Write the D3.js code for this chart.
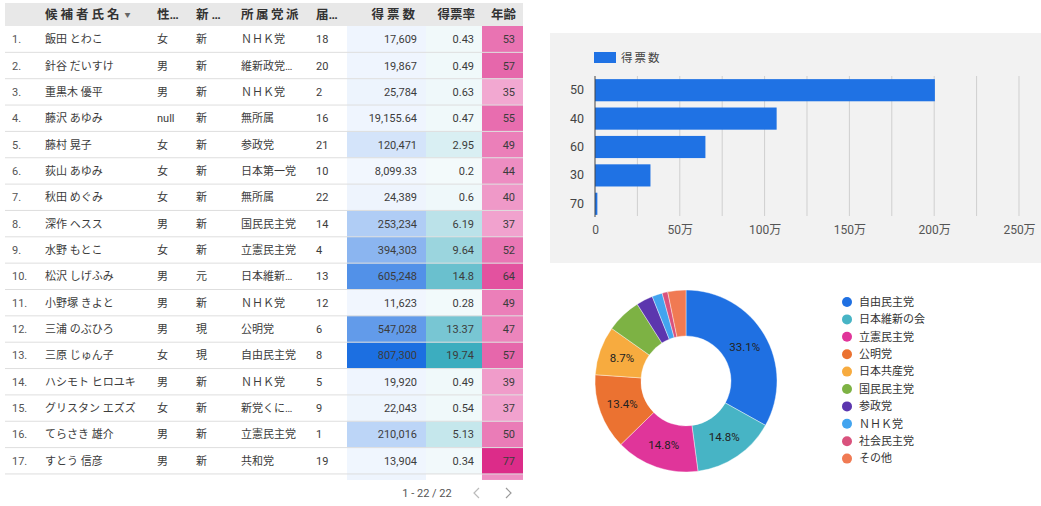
<!DOCTYPE html>
<html>
<head>
<meta charset="utf-8">
<script src="https://cdn.jsdelivr.net/npm/d3@7"></script>
<style>
  body { margin: 0; background: #fff; }
  svg { display: block; font-family: Roboto, "Noto Sans CJK JP", sans-serif; }
</style>
</head>
<body>
<div class="container"></div>
<script>
// table data
var names = ['飯田 とわこ','針谷 だいすけ','重黒木 優平','藤沢 あゆみ','藤村 晃子','荻山 あゆみ','秋田 めぐみ','深作 ヘスス','水野 もとこ','松沢 しげふみ','小野塚 きよと','三浦 のぶひろ','三原 じゅん子','ハシモト ヒロユキ','グリスタン エズズ','てらさき 雄介','すとう 信彦'];
var genders = ['女','男','男','null','女','女','女','男','女','男','男','男','女','男','女','男','男'];
var statuses = ['新','新','新','新','新','新','新','新','新','元','新','現','現','新','新','新','新'];
var parties = ['ＮＨＫ党','維新政党…','ＮＨＫ党','無所属','参政党','日本第一党','無所属','国民民主党','立憲民主党','日本維新…','ＮＨＫ党','公明党','自由民主党','ＮＨＫ党','新党くに…','立憲民主党','共和党'];
var ballots = [18,20,2,16,21,10,22,14,4,13,12,6,8,5,9,1,19];
var votes = [17609,19867,25784,19155.64,120471,8099.33,24389,253234,394303,605248,11623,547028,807300,19920,22043,210016,13904];
var rates = [0.43,0.49,0.63,0.47,2.95,0.2,0.6,6.19,9.64,14.8,0.28,13.37,19.74,0.49,0.54,5.13,0.34];
var ages = [53,57,35,55,49,44,40,37,52,64,49,47,57,39,37,50,77];
var headers = ['候補者氏名','性…','新 …','所属党派','届…','得票数','得票率','年齢'];

// bar chart data (age group -> votes)
var ageGroups = ['50','40','60','30','70'];
var groupVotes = [2004000, 1071000, 651000, 327000, 13904];
var barTicks = [0, 500000, 1000000, 1500000, 2000000, 2500000];

// donut data (party share %)
var partyNames = ['自由民主党','日本維新の会','立憲民主党','公明党','日本共産党','国民民主党','参政党','ＮＨＫ党','社会民主党','その他'];
var partyShares = [33.1, 14.8, 14.8, 13.4, 8.7, 6.2, 2.95, 1.83, 1.0, 3.22];
var partyColors = ['#1f70e2','#47b4c5','#e0359a','#eb7231','#f7ab3f','#7db244','#5c36ae','#42a4ef','#d9527d','#f07a53'];

var W = 1041, H = 506;
var svg = d3.select('.container').append('svg')
  .attr('width', W).attr('height', H);

// ---------- table ----------
var top0 = 26, rowH = 26.35;
var tbl = svg.append('g');

tbl.append('rect').attr('x', 5).attr('y', 3).attr('width', 518).attr('height', 23).attr('fill', '#e8e8e8');

var blueScale = d3.scaleLinear().domain([d3.min(votes), d3.max(votes)]).range(['#f2f7fe', '#1c6fe1']);
var tealScale = d3.scaleLinear().domain([d3.min(rates), d3.max(rates)]).range(['#f3fafb', '#3cadbf']);
var pinkScale = d3.scaleLinear().domain([d3.min(ages), d3.max(ages)]).range(['#f2a8d1', '#dc2c89']);

var colX = {num: 12, name: 45, gender: 157, status: 196, party: 241, ballot: 316};
var cells = [
  {x: 347, w: 79, right: 417, vals: votes, scale: blueScale, fmt: d3.format(',')},
  {x: 426, w: 56, right: 474, vals: rates, scale: tealScale, fmt: String},
  {x: 482, w: 41, right: 515, vals: ages, scale: pinkScale, fmt: String}
];

// header labels
var hy = 19;
var hdr = tbl.append('g').attr('font-size', 12.5).attr('font-weight', 'bold').attr('fill', '#333');
var nameHead = hdr.append('text').attr('x', colX.name).attr('y', hy).attr('letter-spacing', 3).text(headers[0]);
nameHead.append('tspan').attr('font-size', 6).attr('fill', '#666').attr('dx', 2).attr('dy', -2).attr('letter-spacing', 0).text('▼');
hdr.append('text').attr('x', colX.gender).attr('y', hy).text(headers[1]);
hdr.append('text').attr('x', colX.status).attr('y', hy).text(headers[2]);
hdr.append('text').attr('x', colX.party).attr('y', hy).attr('letter-spacing', 2.5).text(headers[3]);
hdr.append('text').attr('x', colX.ballot).attr('y', hy).text(headers[4]);
hdr.append('text').attr('x', 418).attr('y', hy).attr('text-anchor', 'end').attr('letter-spacing', 3).text(headers[5]);
hdr.append('text').attr('x', 475).attr('y', hy).attr('text-anchor', 'end').text(headers[6]);
hdr.append('text').attr('x', 516).attr('y', hy).attr('text-anchor', 'end').text(headers[7]);

// colored cells
cells.forEach(function(c) {
  tbl.selectAll(null).data(c.vals).enter().append('rect')
    .attr('x', c.x).attr('width', c.w)
    .attr('y', function(d, i) { return top0 + i * rowH; })
    .attr('height', rowH)
    .attr('fill', function(d) { return c.scale(d); });
});
// partial next row peeking under the last one
tbl.append('rect').attr('x', 347).attr('y', top0 + 17 * rowH).attr('width', 79).attr('height', 6).attr('fill', '#eef4fd');
tbl.append('rect').attr('x', 482).attr('y', top0 + 17 * rowH).attr('width', 41).attr('height', 6).attr('fill', '#ee8fc3');

// row separators
tbl.selectAll('line.sep').data(d3.range(17)).enter().append('line')
  .attr('x1', 5).attr('x2', 523)
  .attr('y1', function(d) { return top0 + (d + 1) * rowH; })
  .attr('y2', function(d) { return top0 + (d + 1) * rowH; })
  .attr('stroke', '#dedede').attr('stroke-width', 1);

var rows = tbl.selectAll('g.row').data(names).enter().append('g')
  .attr('transform', function(d, i) { return 'translate(0,' + (top0 + i * rowH + rowH / 2 + 4) + ')'; })
  .attr('font-size', 11).attr('fill', '#3c3c3c');

rows.append('text').attr('x', colX.num).attr('fill', '#555').text(function(d, i) { return (i + 1) + '.'; });
rows.append('text').attr('x', colX.name).text(function(d) { return d; });
rows.append('text').attr('x', colX.gender).text(function(d, i) { return genders[i]; });
rows.append('text').attr('x', colX.status).text(function(d, i) { return statuses[i]; });
rows.append('text').attr('x', colX.party).text(function(d, i) { return parties[i]; });
rows.append('text').attr('x', colX.ballot).text(function(d, i) { return ballots[i]; });
cells.forEach(function(c) {
  rows.append('text').attr('x', c.right).attr('text-anchor', 'end')
    .text(function(d, i) { return c.fmt(c.vals[i]); });
});

// pagination
var pg = svg.append('g').attr('font-size', 11).attr('fill', '#555');
pg.append('text').attr('x', 427).attr('y', 497).attr('text-anchor', 'middle').text('1 - 22 / 22');
pg.append('path').attr('d', 'M479,488 L474,493 L479,498').attr('fill', 'none').attr('stroke', '#bbb').attr('stroke-width', 1.2);
pg.append('path').attr('d', 'M506,488 L511,493 L506,498').attr('fill', 'none').attr('stroke', '#999').attr('stroke-width', 1.2);

// ---------- bar chart ----------
svg.append('rect').attr('x', 550).attr('y', 33).attr('width', 491).attr('height', 230).attr('fill', '#f2f2f2');

var barX = d3.scaleLinear().domain([0, 2500000]).range([595, 1019]);
var barY = d3.scaleBand().domain(ageGroups).range([76, 218]).paddingInner(0.22).paddingOuter(0.11);

var bar = svg.append('g');
bar.selectAll('line.grid').data(d3.range(0, 2500001, 250000).slice(1)).enter().append('line')
  .attr('x1', function(d) { return barX(d); }).attr('x2', function(d) { return barX(d); })
  .attr('y1', 76).attr('y2', 216).attr('stroke', '#cfcfcf');

bar.selectAll('rect.bar').data(groupVotes).enter().append('rect')
  .attr('x', barX(0))
  .attr('y', function(d, i) { return barY(ageGroups[i]); })
  .attr('width', function(d) { return barX(d) - barX(0); })
  .attr('height', barY.bandwidth())
  .attr('fill', '#1f72e4');

bar.append('line').attr('x1', barX(0)).attr('x2', barX(0)).attr('y1', 76).attr('y2', 217).attr('stroke', '#444');

var xAxis = d3.axisBottom(barX).tickValues(barTicks).tickSize(0)
  .tickFormat(function(d) { return d === 0 ? '0' : (d / 10000) + '万'; });
bar.append('g').attr('transform', 'translate(0,222)').call(xAxis)
  .call(function(g) { g.select('.domain').remove(); })
  .selectAll('text').attr('font-size', 12).attr('fill', '#555').attr('font-family', 'Roboto, "Noto Sans CJK JP", sans-serif');

var yAxis = d3.axisLeft(barY).tickSize(0).tickPadding(0);
bar.append('g').attr('transform', 'translate(584,0)').call(yAxis)
  .call(function(g) { g.select('.domain').remove(); })
  .selectAll('text').attr('font-size', 12.5).attr('fill', '#444').attr('font-family', 'Roboto, sans-serif');

bar.append('rect').attr('x', 594).attr('y', 52).attr('width', 22).attr('height', 11).attr('fill', '#1f72e4');
bar.append('text').attr('x', 621).attr('y', 62).attr('font-size', 11.5).attr('letter-spacing', 2).attr('fill', '#444').text('得票数');

// ---------- donut ----------
var cx = 686, cy = 381, rOut = 91, rIn = 45;
var pie = d3.pie().sort(null).value(function(d) { return d; });
var arcs = pie(partyShares);
var arc = d3.arc().innerRadius(rIn).outerRadius(rOut);
var labelArc = d3.arc().innerRadius((rIn + rOut) / 2).outerRadius((rIn + rOut) / 2);
var total = d3.sum(partyShares);

var donut = svg.append('g').attr('transform', 'translate(' + cx + ',' + cy + ')');
donut.selectAll('path').data(arcs).enter().append('path')
  .attr('d', arc)
  .attr('fill', function(d, i) { return partyColors[i]; })
  .attr('stroke', '#fff').attr('stroke-width', 0.4);

donut.selectAll('text').data(arcs.filter(function(d) { return d.value / total >= 0.08; })).enter().append('text')
  .attr('transform', function(d) { return 'translate(' + labelArc.centroid(d) + ')'; })
  .attr('text-anchor', 'middle').attr('dy', '0.35em')
  .attr('font-size', 11.5).attr('fill', '#222')
  .text(function(d) { return (d.value / total * 100).toFixed(1) + '%'; });

var legend = svg.append('g').selectAll('g').data(partyNames).enter().append('g')
  .attr('transform', function(d, i) { return 'translate(847,' + (302 + i * 17.4) + ')'; });
legend.append('circle').attr('r', 5).attr('fill', function(d, i) { return partyColors[i]; });
legend.append('text').attr('x', 12).attr('dy', '0.35em').attr('font-size', 11).attr('fill', '#333').text(function(d) { return d; });
</script>
</body>
</html>
